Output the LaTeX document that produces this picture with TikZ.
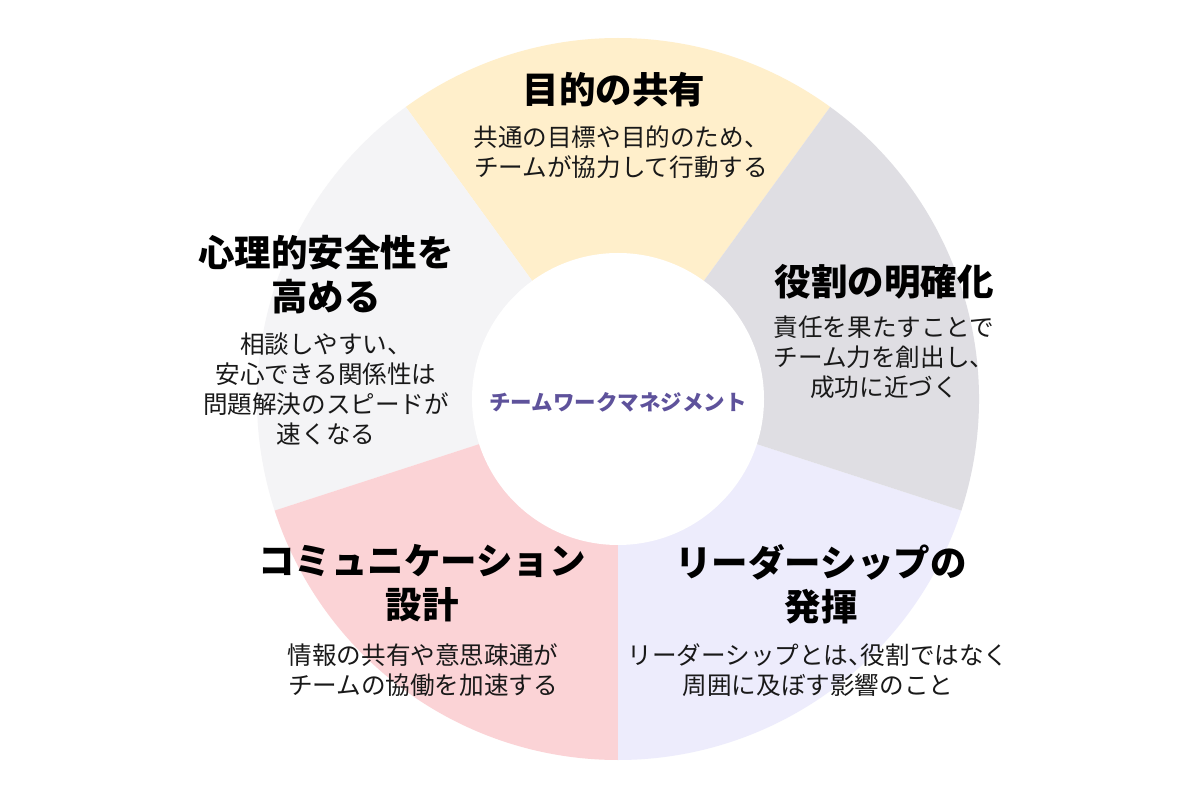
\documentclass[tikz,border=0pt]{standalone}
\usepackage{fontspec}
\setmainfont{Noto Sans CJK JP}
\definecolor{segY}{HTML}{FFEFCB}
\definecolor{segG}{HTML}{DFDEE3}
\definecolor{segL}{HTML}{EDECFC}
\definecolor{segP}{HTML}{FBD3D6}
\definecolor{segW}{HTML}{F4F4F6}
\definecolor{purp}{HTML}{5E529B}
\begin{document}
\begin{tikzpicture}[x=1pt,y=1pt,
  ttl/.style={align=center,font=\fontsize{36.5}{44}\selectfont\bfseries,text=black,inner sep=0},
  body/.style={align=center,font=\fontsize{24.6}{30}\selectfont,text=black!90,inner sep=0}]
\useasboundingbox (0,0) rectangle (1200,788);
\fill[white] (0,0) rectangle (1200,788);
\coordinate (C) at (618,389);
\def\R{361}
\fill[segY] (C) -- ++(54:\R) arc[start angle=54,end angle=126,radius=\R] -- cycle;
\fill[segW] (C) -- ++(126:\R) arc[start angle=126,end angle=198,radius=\R] -- cycle;
\fill[segP] (C) -- ++(198:\R) arc[start angle=198,end angle=270,radius=\R] -- cycle;
\fill[segL] (C) -- ++(270:\R) arc[start angle=270,end angle=342,radius=\R] -- cycle;
\fill[segG] (C) -- ++(342:\R) arc[start angle=342,end angle=414,radius=\R] -- cycle;
\node[circle,fill=white,minimum size=292pt,inner sep=0] (hub) at (C) {};
\node[font=\fontsize{21.5}{24}\selectfont\bfseries,text=purp] (hubtxt) at (618,386) {チームワークマネジメント};
% top
\node[ttl] (t1) at (614,698) {目的の共有};
\node[body] (b1) at (621,636) {共通の目標や目的のため、\\チームが協力して行動する};
% right
\node[ttl] (t2) at (884,506) {役割の明確化};
\node[body] (b2) at (884,431) {責任を果たすことで\\チーム力を創出し、\\成功に近づく};
% left
\node[ttl] (t3) at (326,513) {心理的安全性を\\高める};
\node[body] (b3) at (326,399) {相談しやすい、\\安心できる関係性は\\問題解決のスピードが\\速くなる};
% bottom left
\node[ttl] (t4) at (422,205) {コミュニケーション\\設計};
\node[body] (b4) at (423,118) {情報の共有や意思疎通が\\チームの協働を加速する};
% bottom right
\node[ttl] (t5) at (821,204) {リーダーシップの\\発揮};
\node[body] (b5) at (818,118) {リーダーシップとは、\kern-0.5em役割ではなく\\周囲に及ぼす影響のこと};
\end{tikzpicture}
\end{document}
